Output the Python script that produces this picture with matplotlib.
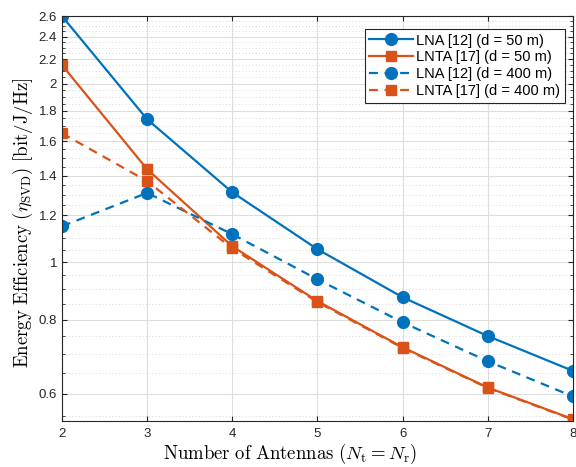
import numpy as np
import matplotlib.pyplot as plt
from matplotlib.ticker import FixedLocator, NullFormatter

plt.rcParams['font.family'] = ['Liberation Sans', 'DejaVu Sans']
plt.rcParams['mathtext.fontset'] = 'cm'

# Data
antennas = [2, 3, 4, 5, 6, 7, 8]
lna_50 = [2.60, 1.742, 1.312, 1.052, 0.873, 0.751, 0.656]
lnta_50 = [2.15, 1.435, 1.064, 0.860, 0.719, 0.615, 0.544]
lna_400 = [1.15, 1.309, 1.115, 0.936, 0.792, 0.681, 0.594]
lnta_400 = [1.65, 1.370, 1.055, 0.857, 0.717, 0.614, 0.543]
y_ticks = [0.6, 0.8, 1, 1.2, 1.4, 1.6, 1.8, 2, 2.2, 2.4, 2.6]
y_ticklabels = ['0.6', '0.8', '1', '1.2', '1.4', '1.6', '1.8', '2', '2.2', '2.4', '2.6']

blue = '#0072BD'
orange = '#D95319'

fig = plt.figure(figsize=(5.76, 4.67), dpi=100)
ax = fig.add_axes([0.1076, 0.0985, 0.887, 0.867])

ax.plot(antennas, lna_50, '-', color=blue, marker='o', markersize=8.5, lw=1.6,
        label='LNA [12] (d = 50 m)')
ax.plot(antennas, lnta_50, '-', color=orange, marker='s', markersize=7.5, lw=1.6,
        label='LNTA [17] (d = 50 m)')
ax.plot(antennas, lna_400, '--', color=blue, marker='o', markersize=8.5, lw=1.6,
        dashes=(4, 3), label='LNA [12] (d = 400 m)')
ax.plot(antennas, lnta_400, '--', color=orange, marker='s', markersize=7.5, lw=1.6,
        dashes=(4, 3), label='LNTA [17] (d = 400 m)')

ax.set_yscale('log')
ax.set_xlim(2, 8)
ax.set_ylim(0.54, 2.6)
ax.set_xticks(antennas)
ax.yaxis.set_major_locator(FixedLocator(y_ticks))
ax.set_yticklabels(y_ticklabels)
minor = [v for v in np.arange(0.55, 2.6, 0.05) if min(abs(v - t) for t in y_ticks) > 1e-6]
ax.yaxis.set_minor_locator(FixedLocator(minor))
ax.yaxis.set_minor_formatter(NullFormatter())

ax.grid(which='major', color='#dddddd', lw=0.8)
ax.grid(which='minor', axis='y', color='#cccccc', lw=0.6, ls=(0, (1, 3)))
ax.set_axisbelow(True)
ax.tick_params(which='both', direction='in', top=True, right=True, labelsize=9.5, colors='#262626')
ax.tick_params(axis='x', pad=5)
ax.tick_params(which='minor', length=2)
for s in ax.spines.values():
    s.set_color('#262626')

ax.set_xlabel(r'$\mathrm{Number\ of\ Antennas}\ (N_{\mathrm{t}} = N_{\mathrm{r}})$', fontsize=13.5)
ax.set_ylabel(r'$\mathrm{Energy\ Efficiency}\ (\eta_{\mathrm{SVD}})\ [\mathrm{bit/J/Hz}]$', fontsize=13.5)
ax.xaxis.set_label_coords(0.446, -0.052)
ax.yaxis.set_label_coords(-0.052, 0.49)

leg = ax.legend(loc='upper right', bbox_to_anchor=(0.99, 0.975), fontsize=10.5, fancybox=False,
                edgecolor='#262626', framealpha=1, handlelength=3.0, borderpad=0.3,
                labelspacing=0.2, handletextpad=0.25, borderaxespad=0.2)
leg.get_frame().set_linewidth(0.8)

fig.savefig('out.png', dpi=100)
